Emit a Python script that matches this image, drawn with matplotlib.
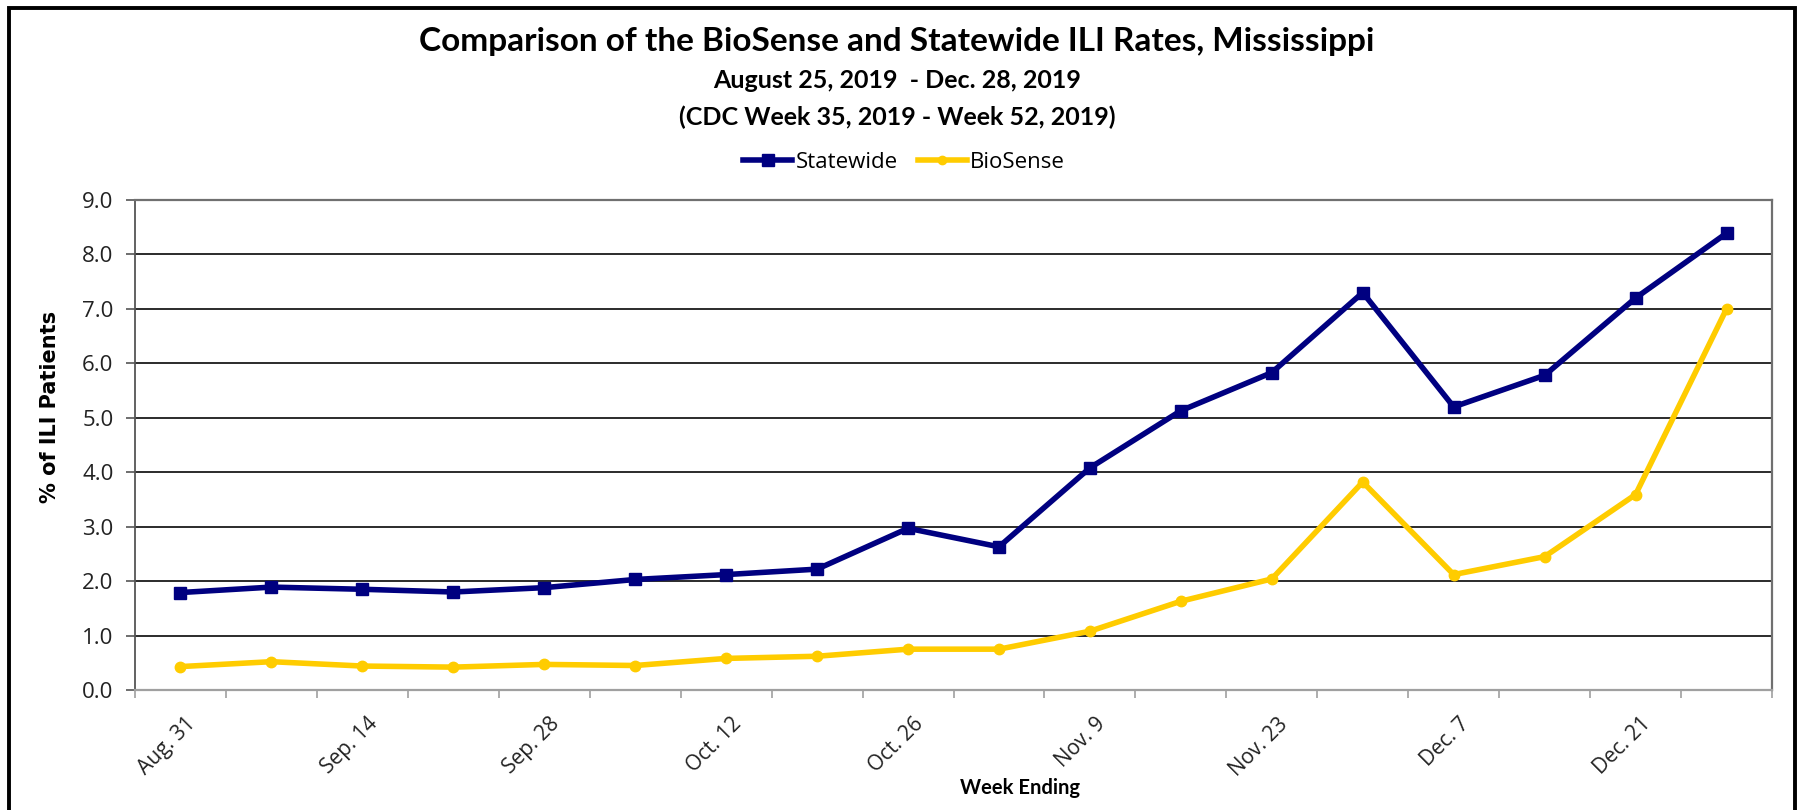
import matplotlib
matplotlib.use("Agg")
import matplotlib.pyplot as plt
import matplotlib.transforms as mtransforms
from matplotlib.patches import Rectangle
from matplotlib.lines import Line2D
import numpy as np

# ---- data ----
weeks = ["Aug. 31", "Sep. 7", "Sep. 14", "Sep. 21", "Sep. 28", "Oct. 5",
         "Oct. 12", "Oct. 19", "Oct. 26", "Nov. 2", "Nov. 9", "Nov. 16",
         "Nov. 23", "Nov. 30", "Dec. 7", "Dec. 14", "Dec. 21", "Dec. 28"]
statewide = [1.79, 1.89, 1.85, 1.80, 1.88, 2.03, 2.12, 2.22, 2.97, 2.63,
             4.08, 5.13, 5.83, 7.30, 5.20, 5.78, 7.20, 8.39]
biosense = [0.43, 0.52, 0.44, 0.42, 0.47, 0.45, 0.58, 0.62, 0.75, 0.75,
            1.08, 1.63, 2.04, 3.82, 2.12, 2.45, 3.59, 7.00]
labeled_weeks = weeks[::2]
y_ticks = [0, 1, 2, 3, 4, 5, 6, 7, 8, 9]

title = "Comparison of the BioSense and Statewide ILI Rates, Mississippi"
subtitle1 = "August 25, 2019  - Dec. 28, 2019"
subtitle2 = "(CDC Week 35, 2019 - Week 52, 2019)"

NAVY = "#000080"
GOLD = "#FFCC00"

W, H = 1798, 810
fig = plt.figure(figsize=(W / 100, H / 100), dpi=100)
fig.patch.set_facecolor("white")

# plot area
x0, x1, ytop, ybot = 135, 1772, 200, 690
ax = fig.add_axes([x0 / W, (H - ybot) / H, (x1 - x0) / W, (ybot - ytop) / H])

x = np.arange(len(weeks))
ax.plot(x, statewide, color=NAVY, lw=4.0, marker="s", ms=8.5, label="Statewide",
        zorder=4)
ax.plot(x, biosense, color=GOLD, lw=4.0, marker="o", ms=7.5, label="BioSense", zorder=3)

ax.set_xlim(-0.5, len(weeks) - 0.5)
ax.set_ylim(0, 9)

# y axis
ax.set_yticks(y_ticks)
ax.set_yticklabels([f"{v:.1f}" for v in y_ticks], fontsize=16, family="Open Sans",
                   color="#222222")
ax.tick_params(axis="y", direction="out", length=6.5, width=1.2, color="#555555", pad=9)
for v in y_ticks[1:-1]:
    ax.axhline(v, color="#1a1a1a", lw=1.3, zorder=1)

# x axis: tick marks at category boundaries, labels at every other week
ax.set_xticks(np.arange(-0.5, len(weeks), 1.0), minor=True)
ax.tick_params(axis="x", which="minor", direction="out", length=6, width=1.2,
               color="#a0a0a0")
ax.set_xticks(x[::2])
ax.set_xticklabels(labeled_weeks, fontsize=15, family="Open Sans", color="#222222",
                   rotation=45, ha="right", va="top", rotation_mode="anchor")
ax.tick_params(axis="x", which="major", length=0, pad=17)
offset = mtransforms.ScaledTranslation(5 / 100, 0, fig.dpi_scale_trans)
for lab in ax.get_xticklabels():
    lab.set_transform(lab.get_transform() + offset)

for side, c, w in [("left", "#555555", 1.3), ("bottom", "#a0a0a0", 1.6),
                   ("top", "#707070", 1.6), ("right", "#707070", 1.6)]:
    ax.spines[side].set_color(c)
    ax.spines[side].set_linewidth(w)

# titles
fig.text(897 / W, 1 - 42 / H, title, ha="center", va="center", fontsize=24,
         family="Lato", fontweight="bold", color="black")
fig.text(897 / W, 1 - 81 / H, subtitle1, ha="center", va="center", fontsize=18,
         family="Lato", fontweight="bold", color="black")
fig.text(897 / W, 1 - 117 / H, subtitle2, ha="center", va="center", fontsize=18,
         family="Lato", fontweight="bold", color="black")

# axis titles
fig.text(50 / W, 1 - 407 / H, "% of ILI Patients", rotation=90, ha="center",
         va="center", fontsize=15, family="DejaVu Sans", fontweight="bold")
fig.text(1020 / W, 1 - 788 / H, "Week Ending", ha="center", va="center",
         fontsize=14.5, family="Lato", fontweight="bold")

# legend
handles = [Line2D([], [], color=NAVY, lw=4.0, marker="s", ms=8),
           Line2D([], [], color=GOLD, lw=4.0, marker="o", ms=6)]
fig.legend(handles, ["Statewide", "BioSense"], loc="center",
           bbox_to_anchor=(904 / W, 1 - 162 / H), ncol=2, frameon=False,
           prop={"family": "Open Sans", "size": 16}, handlelength=2.2,
           handletextpad=0.15, columnspacing=0.9)

# outer chart border
fig.add_artist(Rectangle((9 / W, -0.05), (1795 - 9) / W, 1.05 - 8 / H,
                         transform=fig.transFigure, fill=False, ec="black", lw=2.8,
                         clip_on=False))

fig.savefig("out.png", dpi=100, facecolor="white")
